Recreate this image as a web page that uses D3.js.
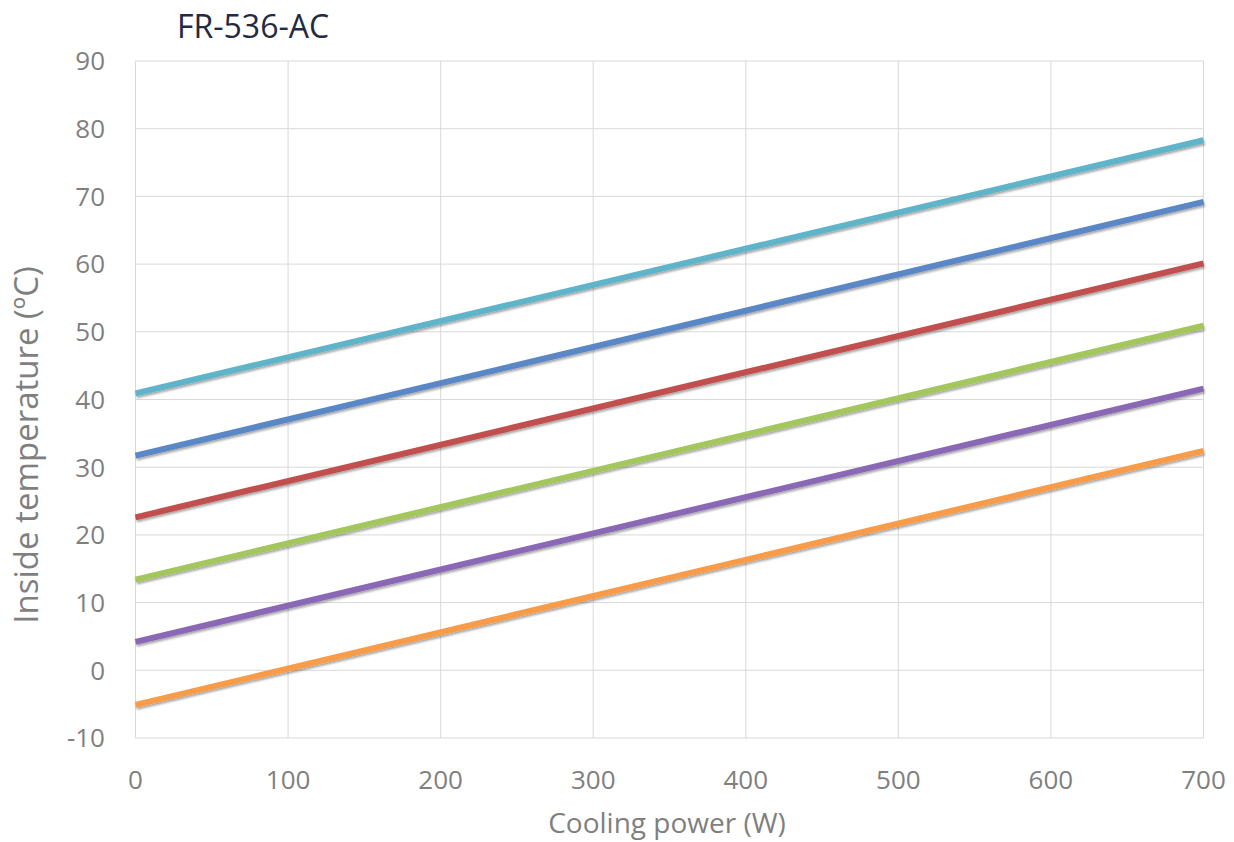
<!DOCTYPE html>
<html>
<head>
<meta charset="utf-8">
<script src="https://cdn.jsdelivr.net/npm/d3@7"></script>
<style>
  body { margin: 0; background: #fff; }
  text { font-family: "Open Sans", sans-serif; }
</style>
</head>
<body>
<script>
'use strict';

// cooling power (W)
const power = [0, 700];
// inside temperature (ºC) per curve, top to bottom
const cyanSeries = [40.9, 78.3];
const blueSeries = [31.7, 69.2];
const redSeries = [22.6, 60.1];
const greenSeries = [13.4, 50.9];
const purpleSeries = [4.2, 41.6];
const orangeSeries = [-5.1, 32.4];
const xTicks = [0, 100, 200, 300, 400, 500, 600, 700];
const yTicks = [-10, 0, 10, 20, 30, 40, 50, 60, 70, 80, 90];

const series = [
  { values: orangeSeries, color: '#f99c4a' },
  { values: purpleSeries, color: '#8a67b6' },
  { values: greenSeries, color: '#a3c65d' },
  { values: redSeries, color: '#c0504d' },
  { values: blueSeries, color: '#5a87c5' },
  { values: cyanSeries, color: '#5fb4c9' }
];

let svg = d3.select('body').append('svg')
  .attr('width', 1234)
  .attr('height', 842);

let defs = svg.append('defs');
let shadow = defs.append('filter')
  .attr('id', 'shadow')
  .attr('x', '-5%').attr('y', '-20%')
  .attr('width', '110%').attr('height', '140%');
shadow.append('feDropShadow')
  .attr('dx', 1).attr('dy', 2)
  .attr('stdDeviation', 1.2)
  .attr('flood-color', '#000')
  .attr('flood-opacity', 0.35);

let xScale = d3.scaleLinear().domain([0, 700]).range([135.5, 1203.5]);
let yScale = d3.scaleLinear().domain([-10, 90]).range([738, 61]);

// gridlines
svg.append('g').selectAll('line')
  .data(yTicks).enter()
  .append('line')
    .attr('x1', xScale(0)).attr('x2', xScale(700))
    .attr('y1', d => yScale(d)).attr('y2', d => yScale(d))
    .attr('stroke', '#d9d9d9')
    .attr('stroke-width', 1);

svg.append('g').selectAll('line')
  .data(xTicks).enter()
  .append('line')
    .attr('x1', d => xScale(d)).attr('x2', d => xScale(d))
    .attr('y1', yScale(-10)).attr('y2', yScale(90))
    .attr('stroke', '#d9d9d9')
    .attr('stroke-width', 1);

// tick labels
svg.append('g').selectAll('text')
  .data(yTicks).enter()
  .append('text')
    .attr('x', 105)
    .attr('y', d => yScale(d))
    .attr('dy', '0.36em')
    .attr('text-anchor', 'end')
    .style('font-size', '26px')
    .attr('fill', '#7f7f7f')
    .text(d => d);

svg.append('g').selectAll('text')
  .data(xTicks).enter()
  .append('text')
    .attr('x', d => xScale(d))
    .attr('y', 780)
    .attr('dy', '0.36em')
    .attr('text-anchor', 'middle')
    .style('font-size', '26px')
    .attr('fill', '#7f7f7f')
    .text(d => d);

// lines
let line = d3.line()
  .x((d, i) => xScale(power[i]))
  .y(d => yScale(d));

svg.append('g').selectAll('path')
  .data(series).enter()
  .append('path')
    .attr('d', d => line(d.values))
    .attr('fill', 'none')
    .attr('stroke', d => d.color)
    .attr('stroke-width', 6)
    .attr('filter', 'url(#shadow)');

// labels
svg.append('text')
  .attr('x', 177)
  .attr('y', 38)
  .style('font-size', '32px')
  .attr('fill', '#222a44')
  .text('FR-536-AC');

svg.append('text')
  .attr('x', 667)
  .attr('y', 833)
  .attr('text-anchor', 'middle')
  .style('font-size', '28px')
  .attr('fill', '#7f7f7f')
  .text('Cooling power (W)');

svg.append('text')
  .attr('transform', 'translate(38, 445)rotate(-90)')
  .attr('text-anchor', 'middle')
  .style('font-size', '33px')
  .attr('fill', '#7f7f7f')
  .text('Inside temperature (ºC)');
</script>
</body>
</html>
